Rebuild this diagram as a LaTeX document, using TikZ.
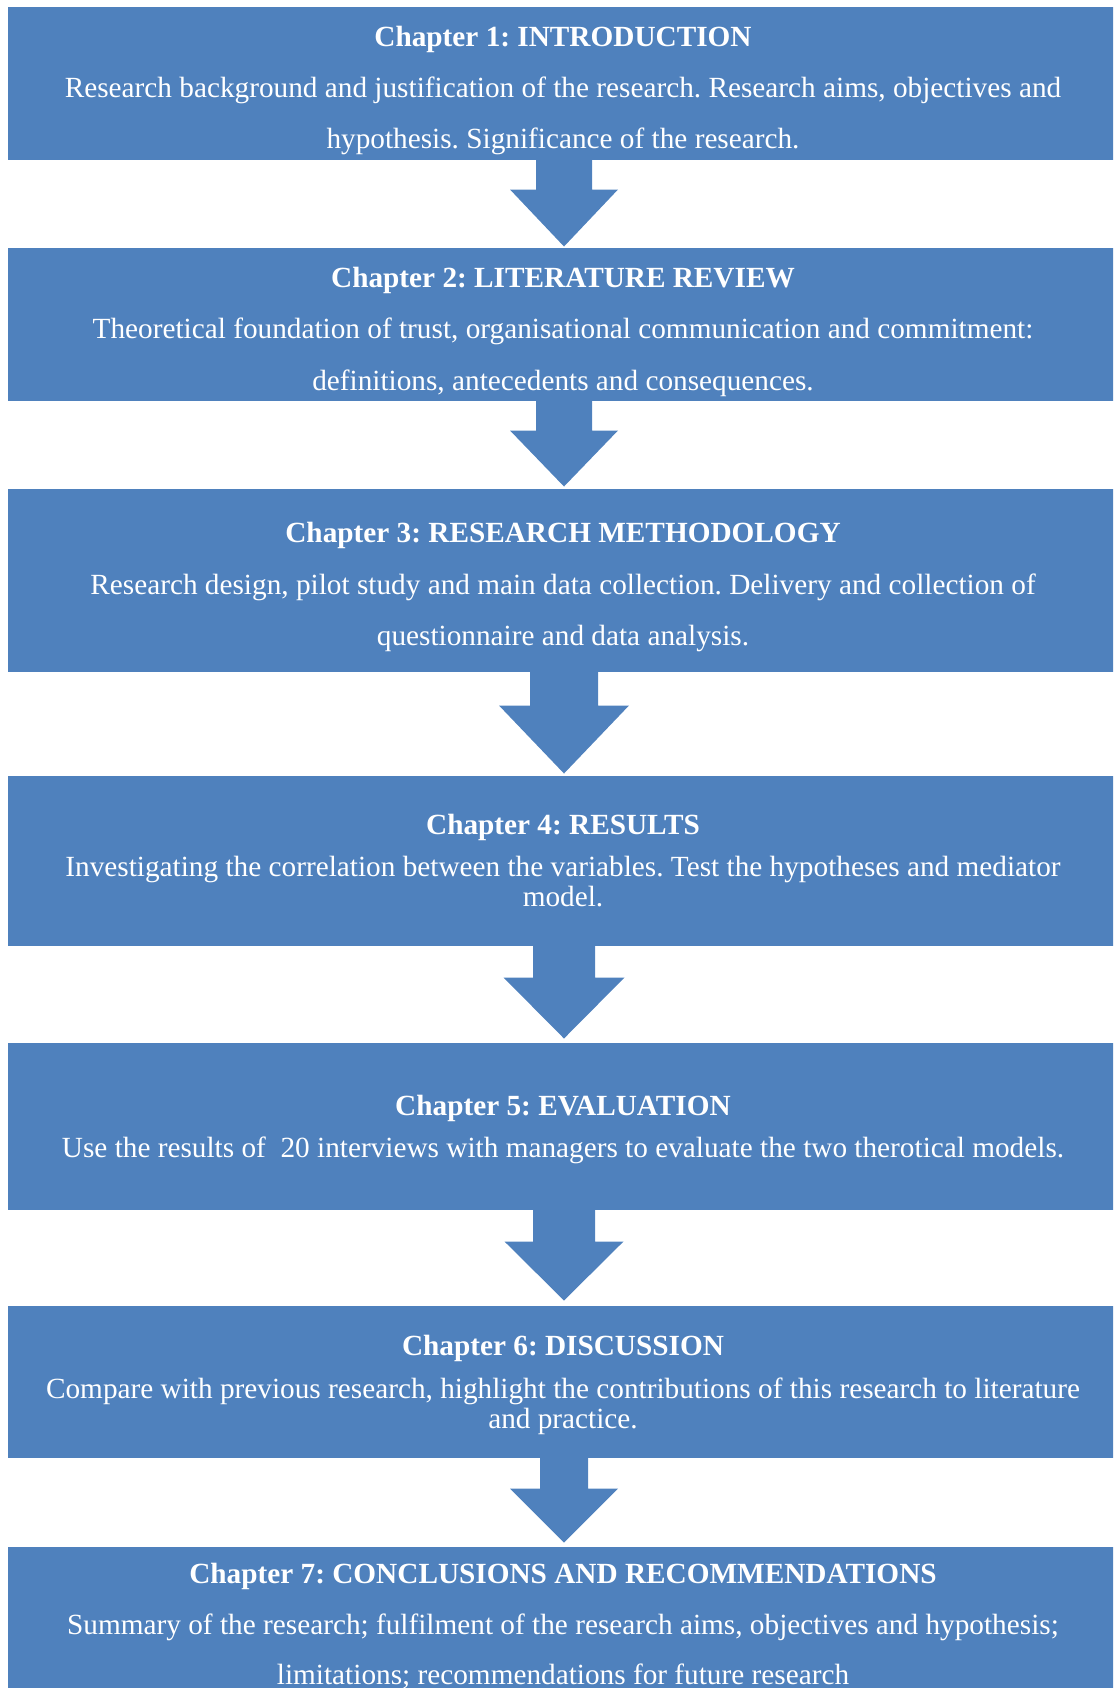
\documentclass[tikz,border=0pt]{standalone}
\usepackage{fontspec}
\setmainfont{Liberation Serif}
\usetikzlibrary{fit,calc}
\frenchspacing
\definecolor{chapblue}{HTML}{4F81BD}
\tikzset{
  chapbox/.style={inner sep=0pt, fill=chapblue, draw=none},
  headline/.style={anchor=base, inner sep=0pt, text=white, font=\fontsize{12}{14}\selectfont\bfseries},
  bodyline/.style={anchor=base, inner sep=0pt, text=white, font=\fontsize{12}{14}\selectfont},
  flowarrow/.style={fill=chapblue, draw=none}
}
% chapter box spanning the page width between two heights
\newcommand\chapterbox[3]{\node[chapbox, fit={(8,-#2)(1120,-#3)}] (#1) {};}
% block arrow: from box, to box, shaft half width, head half width, head length, tip gap
\newcommand\blockarrow[6]{%
  \fill[flowarrow] ($(#1.south)+(-#3,1)$) -- ($(#1.south)+(#3,1)$)
    -- ($(#2.north)+(#3,#5+#6)$) -- ($(#2.north)+(#4,#5+#6)$)
    -- ($(#2.north)+(0,#6)$)
    -- ($(#2.north)+(-#4,#5+#6)$) -- ($(#2.north)+(-#3,#5+#6)$) -- cycle;}
\begin{document}
\begin{tikzpicture}[x=0.41pt, y=0.41pt]
\useasboundingbox (0,0) rectangle (1113,-1688);
\begin{scope}
\clip (0,0) rectangle (1113,-1688);
\chapterbox{b1}{7.5}{160}
\chapterbox{b2}{248}{401}
\chapterbox{b3}{489}{672}
\chapterbox{b4}{776}{946}
\chapterbox{b5}{1043}{1210}
\chapterbox{b6}{1306}{1458}
\chapterbox{b7}{1547}{1700}

\blockarrow{b1}{b2}{28}{54}{57}{1}
\blockarrow{b2}{b3}{28}{54}{56}{2}
\blockarrow{b3}{b4}{34}{65}{68}{2}
\blockarrow{b4}{b5}{31}{60.5}{61}{4}
\blockarrow{b5}{b6}{31}{59.5}{59}{5}
\blockarrow{b6}{b7}{24}{54}{54}{4}

% chapter texts
\node[headline] (h1) at (563,-46.5) {Chapter 1: INTRODUCTION};
\node[bodyline] (l1a) at (563,-98) {Research background and justification of the research. Research aims, objectives and};
\node[bodyline] (l1b) at (563,-148) {hypothesis. Significance of the research.};

\node[headline] (h2) at (563,-287) {Chapter 2: LITERATURE REVIEW};
\node[bodyline] (l2a) at (563,-338) {Theoretical foundation of trust, organisational communication and commitment:};
\node[bodyline] (l2b) at (563,-390) {definitions, antecedents and consequences.};

\node[headline] (h3) at (563,-542) {Chapter 3: RESEARCH METHODOLOGY};
\node[bodyline] (l3a) at (563,-594) {Research design, pilot study and main data collection. Delivery and collection of};
\node[bodyline] (l3b) at (563,-645) {questionnaire and data analysis.};

\node[headline] (h4) at (563,-834) {Chapter 4: RESULTS};
\node[bodyline] (l4a) at (563,-876) {Investigating the correlation between the variables. Test the hypotheses and mediator};
\node[bodyline] (l4b) at (563,-906) {model.};

\node[headline] (h5) at (563,-1115) {Chapter 5: EVALUATION};
\node[bodyline] (l5a) at (563,-1157) {Use the results of \ 20 interviews with managers to evaluate the two therotical models.};

\node[headline] (h6) at (563,-1355) {Chapter 6: DISCUSSION};
\node[bodyline] (l6a) at (563,-1398) {Compare with previous research, highlight the contributions of this research to literature};
\node[bodyline] (l6b) at (563,-1428) {and practice.};

\node[headline] (h7) at (563,-1583) {Chapter 7: CONCLUSIONS AND RECOMMENDATIONS};
\node[bodyline] (l7a) at (563,-1634) {Summary of the research; fulfilment of the research aims, objectives and hypothesis;};
\node[bodyline] (l7b) at (563,-1684) {limitations; recommendations for future research};
\end{scope}
\end{tikzpicture}
\end{document}
